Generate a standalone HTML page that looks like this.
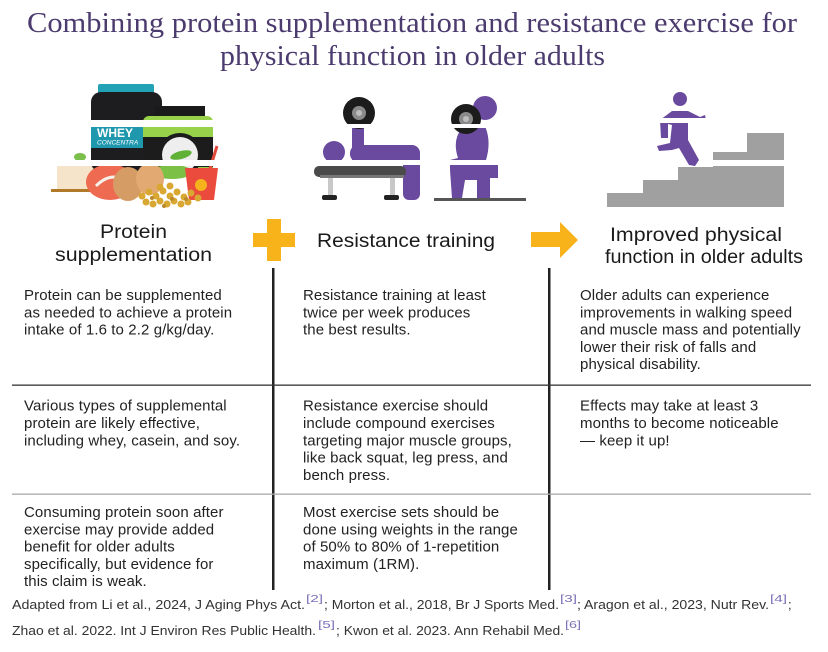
<!DOCTYPE html>
<html>
<head>
<meta charset="utf-8">
<style>
  html,body{margin:0;padding:0;background:#fff;}
  svg{display:block;}
  .t{font-family:"Liberation Serif",serif;fill:#4b3b6e;font-size:29px;}
  .h{font-family:"Liberation Sans",sans-serif;fill:#1a1a1a;font-size:19px;}
  .b{font-family:"Liberation Sans",sans-serif;fill:#222;font-size:15px;letter-spacing:0.1px;}
  .f{font-family:"Liberation Sans Narrow","Liberation Sans",sans-serif;fill:#333;font-size:13px;}
  .s{font-family:"Liberation Sans",sans-serif;fill:#7d70b8;font-size:10px;}
</style>
</head>
<body>
<svg width="828" height="652" viewBox="0 0 828 652" xmlns="http://www.w3.org/2000/svg">
  <rect width="828" height="652" fill="#fff"/>

  <!-- Title -->
  <text class="t" x="27" y="32" textLength="770" lengthAdjust="spacingAndGlyphs">Combining protein supplementation and resistance exercise for</text>
  <text class="t" x="220" y="65" textLength="385" lengthAdjust="spacingAndGlyphs">physical function in older adults</text>

  <!-- ===== Protein image ===== -->
  <!-- leaf -->
  <ellipse cx="80" cy="157" rx="6" ry="4" fill="#7cbf4a"/>
  <!-- tofu -->
  <rect x="57" y="166" width="40" height="24" fill="#f5e4c9"/>
  <rect x="51" y="189" width="48" height="3" fill="#b07a28"/>
  <!-- whey jar -->
  <rect x="98" y="84" width="56" height="10" rx="2" fill="#22a2b5"/>
  <rect x="91" y="92" width="71" height="80" rx="10" fill="#1d1d1f"/>
  <rect x="91" y="126" width="71" height="22" fill="#1f98ae"/>
  <text x="97" y="137" font-family="Liberation Sans,sans-serif" font-weight="bold" font-size="12" fill="#fff">WHEY</text>
  <text x="97" y="144.5" font-family="Liberation Sans,sans-serif" font-style="italic" font-size="6.5" fill="#fff">CONCENTRA</text>
  <!-- green jar -->
  <rect x="155" y="106" width="50" height="11" fill="#1a1a1a"/>
  <rect x="143" y="116" width="70" height="58" rx="6" fill="#97d24a"/>
  <rect x="143" y="137" width="70" height="30" fill="#1c1c1c"/>
  <circle cx="180" cy="155" r="22" fill="#1c1c1c"/>
  <circle cx="180" cy="155" r="18" fill="#eeeeee"/>
  <ellipse cx="181" cy="155" rx="11" ry="4" fill="#5fb235" transform="rotate(-15 181 155)"/>
  <!-- lettuce -->
  <ellipse cx="172" cy="172" rx="20" ry="7" fill="#7cc046"/>
  <!-- salmon -->
  <ellipse cx="110" cy="182" rx="24" ry="18" fill="#ee6a50"/>
  <path d="M96 186 Q110 172 124 180" stroke="#f6f0ea" stroke-width="3" fill="none"/>
  <!-- eggs -->
  <ellipse cx="128" cy="184" rx="15" ry="17" fill="#d69c66"/>
  <ellipse cx="150" cy="179" rx="14" ry="16" fill="#e2aa72"/>
  <!-- red cup -->
  <line x1="209" y1="172" x2="217" y2="146" stroke="#e04a3a" stroke-width="3"/>
  <path d="M185 168 L218 168 L214 200 L189 200 Z" fill="#ea4b3c"/>
  <circle cx="201" cy="185" r="6" fill="#f5b21c"/>
  <!-- chickpeas -->
  <g fill="#d9a832">
    <circle cx="142" cy="196" r="3.5"/><circle cx="149" cy="192" r="3.5"/><circle cx="156" cy="196" r="3.5"/>
    <circle cx="163" cy="191" r="3.5"/><circle cx="170" cy="196" r="3.5"/><circle cx="177" cy="192" r="3.5"/>
    <circle cx="184" cy="197" r="3.5"/><circle cx="191" cy="193" r="3.5"/><circle cx="198" cy="198" r="3.5"/>
    <circle cx="146" cy="202" r="3.5"/><circle cx="153" cy="204" r="3.5"/><circle cx="160" cy="201" r="3.5"/>
    <circle cx="167" cy="204" r="3.5"/><circle cx="174" cy="201" r="3.5"/><circle cx="181" cy="204" r="3.5"/>
    <circle cx="188" cy="202" r="3.5"/><circle cx="160" cy="187" r="3.5"/><circle cx="170" cy="186" r="3.5"/>
  </g>
  <g fill="#b9892a">
    <circle cx="152" cy="198" r="2"/><circle cx="172" cy="199" r="2"/><circle cx="186" cy="199" r="2"/><circle cx="164" cy="206" r="2"/>
  </g>

  <!-- ===== Bench press ===== -->
  <rect x="352" y="118" width="12" height="42" fill="#6a4a9e"/>
  <circle cx="359" cy="113" r="16" fill="#1c1c1c"/>
  <circle cx="359" cy="113" r="7" fill="#8a8a8a"/>
  <circle cx="359" cy="113" r="3" fill="#bdbdbd"/>
  <circle cx="334" cy="152" r="11" fill="#6a4a9e"/>
  <rect x="350" y="145" width="70" height="17" rx="8" fill="#6a4a9e"/>
  <rect x="403" y="150" width="17" height="50" rx="6" fill="#6a4a9e"/>
  <rect x="314" y="166" width="92" height="11" rx="5" fill="#4a4a4a"/>
  <rect x="320" y="175" width="84" height="3" fill="#777"/>
  <rect x="328" y="178" width="5" height="17" fill="#c8c8c8"/>
  <rect x="390" y="178" width="5" height="17" fill="#c8c8c8"/>
  <rect x="322" y="195" width="15" height="5" rx="2" fill="#222"/>
  <rect x="384" y="195" width="15" height="5" rx="2" fill="#222"/>

  <!-- ===== Squat / lunge ===== -->
  <circle cx="485" cy="108" r="12" fill="#6a4a9e"/>
  <path d="M462 128 L484 124 Q492 140 486 160 L498 160 L498 178 L490 178 L490 200 L477 200 L477 180 L465 180 L462 198 L452 198 L450 170 L450 160 L458 158 Q452 140 462 128 Z" fill="#6a4a9e"/>
  <circle cx="466" cy="119" r="15" fill="#1c1c1c"/>
  <circle cx="466" cy="119" r="7" fill="#8a8a8a"/>
  <circle cx="466" cy="119" r="3" fill="#bdbdbd"/>
  <rect x="434" y="198" width="92" height="3" fill="#555"/>

  <!-- ===== Stairs + runner ===== -->
  <polygon points="607,207 607,193 643,193 643,180 678,180 678,167 713,167 713,152 747,152 747,133 784,133 784,207" fill="#a0a0a0"/>
  <circle cx="680" cy="99" r="7" fill="#6a4a9e"/>
  <path d="M660 120 L672 111 L688 111 L700 117 L705 115 L706 120 L699 122 L688 118 L688 140 L699 160 L695 166 L689 165 L679 148 L672 150 L659 151 L657 146 L670 143 L672 125 L668 124 L668 138 L661 138 Z" fill="#6a4a9e"/>

  <!-- artifact stripes -->
  <rect x="50" y="120" width="180" height="7" fill="#fff"/>
  <rect x="50" y="160" width="180" height="6" fill="#fff"/>
  <rect x="300" y="124" width="230" height="4" fill="#fff"/>
  <rect x="300" y="160" width="230" height="5" fill="#fff"/>
  <rect x="650" y="118" width="60" height="5" fill="#fff"/>
  <rect x="700" y="160" width="90" height="6" fill="#fff"/>

  <!-- Headers -->
  <text class="h" x="100" y="238" textLength="67" lengthAdjust="spacingAndGlyphs">Protein</text>
  <text class="h" x="55" y="261" textLength="157" lengthAdjust="spacingAndGlyphs">supplementation</text>
  <text class="h" x="317" y="247" textLength="178" lengthAdjust="spacingAndGlyphs">Resistance training</text>
  <text class="h" x="610" y="241" textLength="172" lengthAdjust="spacingAndGlyphs">Improved physical</text>
  <text class="h" x="605" y="263" textLength="198" lengthAdjust="spacingAndGlyphs">function in older adults</text>

  <!-- Plus -->
  <rect x="253" y="233" width="42" height="14" fill="#f8b31b"/>
  <rect x="267" y="219" width="14" height="42" fill="#f8b31b"/>
  <!-- Arrow -->
  <polygon points="531,232 560,232 560,222 578,240 560,258 560,247 531,247" fill="#f8b31b"/>

  <!-- Dividers -->
  <rect x="272" y="268" width="2.5" height="322" fill="#222"/>
  <rect x="548" y="268" width="2.5" height="322" fill="#222"/>
  <rect x="12" y="384.5" width="799" height="1.3" fill="#333"/>
  <rect x="12" y="493.5" width="799" height="1.3" fill="#aaa"/>

  <!-- Row 1 -->
  <text class="b" x="24" y="300">Protein can be supplemented</text>
  <text class="b" x="24" y="317.3">as needed to achieve a protein</text>
  <text class="b" x="24" y="334.6">intake of 1.6 to 2.2 g/kg/day.</text>

  <text class="b" x="303" y="300">Resistance training at least</text>
  <text class="b" x="303" y="317.3">twice per week produces</text>
  <text class="b" x="303" y="334.6">the best results.</text>

  <text class="b" x="580" y="300">Older adults can experience</text>
  <text class="b" x="580" y="317.3">improvements in walking speed</text>
  <text class="b" x="580" y="334.6">and muscle mass and potentially</text>
  <text class="b" x="580" y="351.9">lower their risk of falls and</text>
  <text class="b" x="580" y="369.2">physical disability.</text>

  <!-- Row 2 -->
  <text class="b" x="24" y="410.7">Various types of supplemental</text>
  <text class="b" x="24" y="428">protein are likely effective,</text>
  <text class="b" x="24" y="445.3">including whey, casein, and soy.</text>

  <text class="b" x="303" y="410.7">Resistance exercise should</text>
  <text class="b" x="303" y="428">include compound exercises</text>
  <text class="b" x="303" y="445.3">targeting major muscle groups,</text>
  <text class="b" x="303" y="462.6">like back squat, leg press, and</text>
  <text class="b" x="303" y="479.9">bench press.</text>

  <text class="b" x="580" y="410.7">Effects may take at least 3</text>
  <text class="b" x="580" y="428">months to become noticeable</text>
  <text class="b" x="580" y="445.3">— keep it up!</text>

  <!-- Row 3 -->
  <text class="b" x="24" y="517">Consuming protein soon after</text>
  <text class="b" x="24" y="534.3">exercise may provide added</text>
  <text class="b" x="24" y="551.6">benefit for older adults</text>
  <text class="b" x="24" y="568.9">specifically, but evidence for</text>
  <text class="b" x="24" y="586.2">this claim is weak.</text>

  <text class="b" x="303" y="517">Most exercise sets should be</text>
  <text class="b" x="303" y="534.3">done using weights in the range</text>
  <text class="b" x="303" y="551.6">of 50% to 80% of 1-repetition</text>
  <text class="b" x="303" y="568.9">maximum (1RM).</text>

  <!-- Footer -->
  <text class="f" x="12" y="609" textLength="293" lengthAdjust="spacingAndGlyphs">Adapted from Li et al., 2024, J Aging Phys Act.</text>
  <text class="s" x="306" y="602" textLength="17" lengthAdjust="spacingAndGlyphs">[2]</text>
  <text class="f" x="324" y="609" textLength="235" lengthAdjust="spacingAndGlyphs">; Morton et al., 2018, Br J Sports Med.</text>
  <text class="s" x="560" y="602" textLength="17" lengthAdjust="spacingAndGlyphs">[3]</text>
  <text class="f" x="577" y="609" textLength="192" lengthAdjust="spacingAndGlyphs">; Aragon et al., 2023, Nutr Rev.</text>
  <text class="s" x="770" y="602" textLength="17" lengthAdjust="spacingAndGlyphs">[4]</text>
  <text class="f" x="788" y="609">;</text>

  <text class="f" x="12" y="635" textLength="304" lengthAdjust="spacingAndGlyphs">Zhao et al. 2022. Int J Environ Res Public Health.</text>
  <text class="s" x="318" y="628" textLength="17" lengthAdjust="spacingAndGlyphs">[5]</text>
  <text class="f" x="336" y="635" textLength="228" lengthAdjust="spacingAndGlyphs">; Kwon et al. 2023. Ann Rehabil Med.</text>
  <text class="s" x="565" y="628" textLength="16" lengthAdjust="spacingAndGlyphs">[6]</text>
</svg>
</body>
</html>
